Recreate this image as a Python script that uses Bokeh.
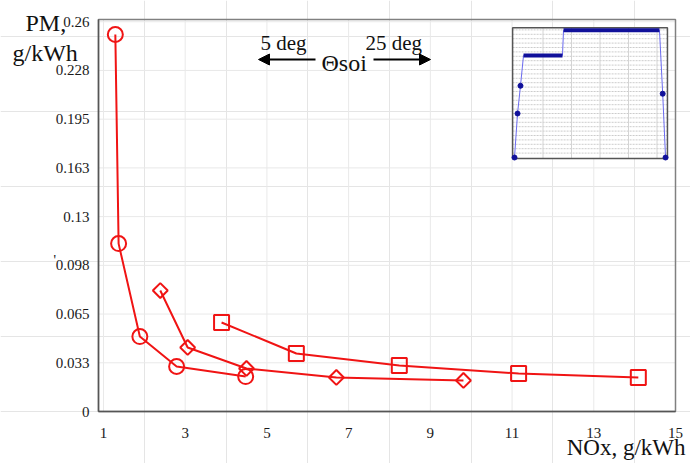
import math
from bokeh.plotting import figure
from bokeh.models import Range1d, FixedTicker, Label, Arrow, NormalHead, LinearAxis
from bokeh.embed import file_html
from bokeh.resources import INLINE

# ---------------- data ----------------
circle_nox = [1.29, 1.37, 1.89, 2.79, 4.48]
circle_pm = [0.2515, 0.112, 0.050, 0.030, 0.0233]
diamond_nox = [2.39, 3.06, 4.50, 6.70, 9.81]
diamond_pm = [0.0807, 0.0427, 0.0287, 0.0227, 0.0207]
square_nox = [3.89, 5.72, 8.24, 11.16, 14.09]
square_pm = [0.0594, 0.0387, 0.0307, 0.0253, 0.0227]

x_ticks = [1, 3, 5, 7, 9, 11, 13, 15]
y_ticks = [0, 0.0325, 0.065, 0.0975, 0.13, 0.1625, 0.195, 0.2275, 0.26]
y_tick_labels = ["0", "0.033", "0.065", "0.098", "0.13", "0.163", "0.195", "0.228", "0.26"]

# inset: injection profile
inj_x = [0.0, 0.32, 0.63, 0.95, 5.05, 5.16, 15.26, 15.6, 15.9]
inj_y = [0.0, 10.0, 16.3, 23.2, 23.2, 28.9, 28.9, 14.5, 0.0]
plateau1_idx = [3, 4]
plateau2_idx = [5, 6]
dot_idx = [0, 1, 2, 7, 8]
inset_x_grid = [3, 6, 9, 12, 15]
inset_y_grid = list(range(1, 30))

# ---------------- layout ----------------
FIG_W, FIG_H = 690, 463
BOX_L, BOX_R, BOX_T, BOX_B = 98, 675, 19, 411      # plot box in page pixels
X_START, X_END = 0.878, 15.0
Y_START, Y_END = 0.0, 0.2615

# inset placement (page pixels) and scale
INS_X0_PX, INS_XPX = 514, 9.5
INS_Y0_PX, INS_YPX = 157, 4.4
INS_BOX = (-0.2, 16.1, -0.25, 29.5)

RED = "#f01414"
SERIF = "Liberation Serif"

# the frame covers the whole canvas; data ranges are set so that the plot box lands on BOX_*
kx = (X_END - X_START) / (BOX_R - BOX_L)
ky = (Y_END - Y_START) / (BOX_B - BOX_T)
xr = Range1d(X_START - BOX_L * kx, X_END + (FIG_W - BOX_R) * kx)
yr = Range1d(Y_START - (FIG_H - BOX_B) * ky, Y_END + BOX_T * ky)

p = figure(width=FIG_W, height=FIG_H, output_backend="svg", toolbar_location=None,
           x_range=xr, y_range=yr, x_axis_location=None, y_axis_location=None,
           min_border=0)
p.outline_line_color = None
p.background_fill_color = "white"
p.border_fill_color = "white"
p.extra_x_ranges = {"ix": Range1d(-INS_X0_PX / INS_XPX, (FIG_W - INS_X0_PX) / INS_XPX)}
p.extra_y_ranges = {"iy": Range1d((INS_Y0_PX - FIG_H) / INS_YPX, INS_Y0_PX / INS_YPX)}

# ---------------- grid ----------------
p.segment(x0=x_ticks, x1=x_ticks, y0=[Y_START] * len(x_ticks), y1=[Y_END] * len(x_ticks),
          line_color="#e9e9e9", line_width=1)
p.segment(x0=[X_START] * len(y_ticks), x1=[X_END] * len(y_ticks), y0=y_ticks, y1=y_ticks,
          line_color="#e9e9e9", line_width=1)

# ---------------- main series ----------------
p.line(circle_nox, circle_pm, line_color=RED, line_width=2)
p.scatter(circle_nox, circle_pm, marker="circle", size=15, fill_alpha=0,
          line_color=RED, line_width=2)
p.line(diamond_nox, diamond_pm, line_color=RED, line_width=2)
p.scatter(diamond_nox, diamond_pm, marker="square", size=10.5, angle=math.pi / 4,
          fill_alpha=0, line_color=RED, line_width=2)
p.line(square_nox, square_pm, line_color=RED, line_width=2)
p.scatter(square_nox, square_pm, marker="square", size=15, fill_alpha=0,
          line_color=RED, line_width=2)

# plot box outline
p.quad(left=[X_START], right=[X_END], bottom=[Y_START], top=[Y_END], fill_alpha=0,
       line_color="#808080", line_width=1.5)

# ---------------- axes (fixed inside the frame) ----------------
xaxis = LinearAxis(fixed_location=Y_START, ticker=FixedTicker(ticks=x_ticks),
                   bounds=(X_START, X_END))
yaxis = LinearAxis(fixed_location=X_START, ticker=FixedTicker(ticks=y_ticks),
                   bounds=(Y_START, Y_END),
                   major_label_overrides={t: s for t, s in zip(y_ticks, y_tick_labels)})
for ax in (xaxis, yaxis):
    ax.axis_line_color = "#555555"
    ax.axis_line_width = 1.5
    ax.major_tick_line_color = None
    ax.minor_tick_line_color = None
    ax.major_label_text_font = SERIF
    ax.major_label_text_font_size = "15px"
    ax.major_label_text_color = "#1a1a1a"
xaxis.major_label_standoff = 10
yaxis.major_label_standoff = 3
p.add_layout(xaxis, "below")
p.add_layout(yaxis, "left")

# ---------------- inset ----------------
bx0, bx1, by0, by1 = INS_BOX
p.quad(left=[bx0], right=[bx1], bottom=[by0], top=[by1], fill_color="white",
       line_color=None, x_range_name="ix", y_range_name="iy")
p.segment(x0=[bx0] * len(inset_y_grid), x1=[bx1] * len(inset_y_grid),
          y0=inset_y_grid, y1=inset_y_grid, line_color="#cccccc", line_width=1,
          line_dash="2 1", x_range_name="ix", y_range_name="iy")
p.segment(x0=inset_x_grid, x1=inset_x_grid, y0=[by0] * len(inset_x_grid),
          y1=[by1] * len(inset_x_grid), line_color="#d4d4d4", line_width=1,
          x_range_name="ix", y_range_name="iy")
p.quad(left=[bx0], right=[bx1], bottom=[by0], top=[by1], fill_alpha=0,
       line_color="#555555", line_width=1.5, x_range_name="ix", y_range_name="iy")

p.line(inj_x, inj_y, line_color="#6a6af0", line_width=1, x_range_name="ix", y_range_name="iy")
for idx in (plateau1_idx, plateau2_idx):
    p.line([inj_x[i] for i in idx], [inj_y[i] for i in idx], line_color="#10109a",
           line_width=4, x_range_name="ix", y_range_name="iy")
p.scatter([inj_x[i] for i in dot_idx], [inj_y[i] for i in dot_idx], marker="circle",
          size=5, fill_color="#10109a", line_color="#10109a",
          x_range_name="ix", y_range_name="iy")

# ---------------- texts (screen units; frame == canvas) ----------------
def add_label(text, px, py, size, align="left"):
    p.add_layout(Label(x=px, y=FIG_H - py, x_units="screen", y_units="screen",
                       text=text, text_font=SERIF, text_font_size=size,
                       text_color="#111111", text_align=align,
                       text_baseline="middle"))

add_label("PM,", 25, 22, "24px")
add_label("g/kWh", 12, 52, "24px")
add_label("NOx, g/kWh", 685, 447, "23px", align="right")
add_label("5 deg", 260, 42, "21px")
add_label("25 deg", 365, 42, "21px")
add_label("\u0398soi", 321, 62, "24px")
add_label("'", 53, 260, "14px")

for (x0, x1) in ((315, 258), (373, 430)):
    p.add_layout(Arrow(x_start=x0, y_start=FIG_H - 59, x_end=x1, y_end=FIG_H - 59,
                       start_units="screen", end_units="screen",
                       line_color="black", line_width=2,
                       end=NormalHead(size=11, fill_color="black", line_color="black")))

open("out.html", "w").write(file_html(p, INLINE))
